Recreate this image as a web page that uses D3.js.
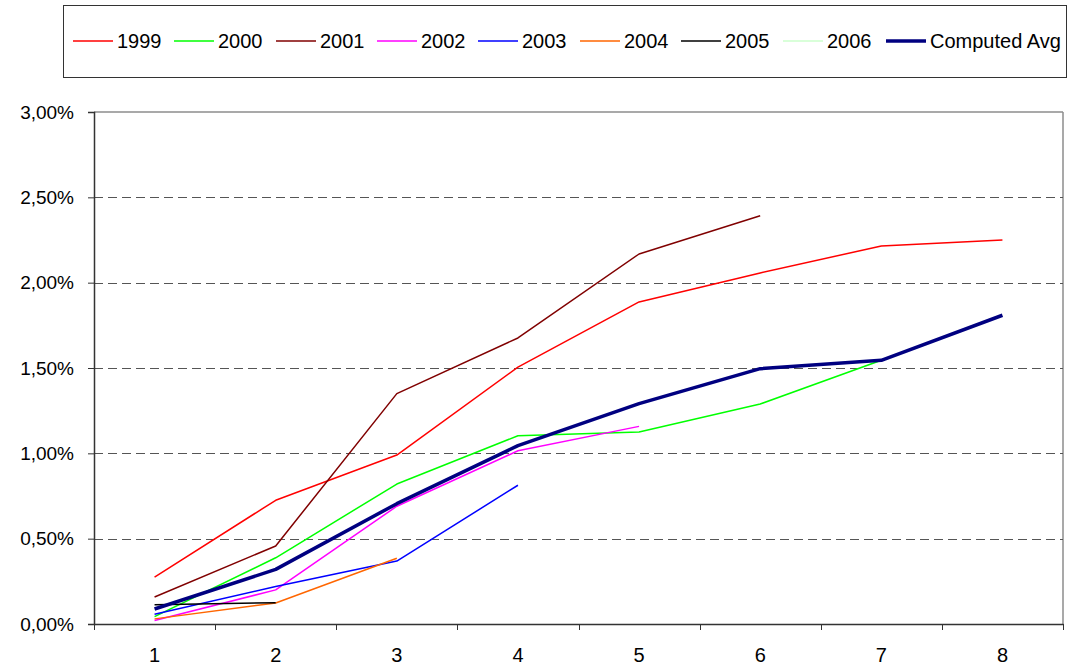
<!DOCTYPE html>
<html>
<head>
<meta charset="utf-8">
<script src="https://cdn.jsdelivr.net/npm/d3@7"></script>
<style>
  html, body { margin: 0; padding: 0; background: #fff; }
  svg { display: block; font-family: "Liberation Sans", Arial, sans-serif; }
</style>
</head>
<body>
<svg id="chart" width="1068" height="666"></svg>
<script>
const categories = [1, 2, 3, 4, 5, 6, 7, 8];
const yTicks = [0, 0.5, 1, 1.5, 2, 2.5, 3];
const yTickLabels = ["0,00%", "0,50%", "1,00%", "1,50%", "2,00%", "2,50%", "3,00%"];

const seriesNames = ["1999", "2000", "2001", "2002", "2003", "2004", "2005", "2006", "Computed Avg"];
const seriesColors = ["#ff0000", "#00ff00", "#800000", "#ff00ff", "#0000ff", "#ff6600", "#000000", "#ccffcc", "#000080"];
const seriesWidths = [1.5, 1.5, 1.5, 1.5, 1.5, 1.5, 1.5, 1.5, 3.5];

const v1999 = [0.275, 0.725, 0.99, 1.505, 1.887, 2.057, 2.215, 2.25];
const v2000 = [0.043, 0.388, 0.82, 1.103, 1.125, 1.289, 1.545];
const v2001 = [0.158, 0.457, 1.35, 1.676, 2.168, 2.392];
const v2002 = [0.02, 0.2, 0.69, 1.015, 1.158];
const v2003 = [0.057, 0.22, 0.369, 0.813];
const v2004 = [0.03, 0.123, 0.385];
const v2005 = [0.113, 0.125];
const v2006 = [0.09];
const vAvg = [0.088, 0.32, 0.705, 1.045, 1.291, 1.496, 1.545, 1.809];

const seriesValues = [v1999, v2000, v2001, v2002, v2003, v2004, v2005, v2006, vAvg];

const svg = d3.select("#chart");
const plot = { left: 94, right: 1063, top: 112, bottom: 624 };

const x = d3.scaleBand().domain(categories).range([plot.left, plot.right]);
const y = d3.scaleLinear().domain([0, 3]).range([plot.bottom, plot.top]);

// Plot frame (top/right gray)
svg.append("line").attr("x1", plot.left).attr("x2", plot.right).attr("y1", plot.top).attr("y2", plot.top)
  .attr("stroke", "#8c8c8c").attr("stroke-width", 1.5);
svg.append("line").attr("x1", plot.right).attr("x2", plot.right).attr("y1", plot.top).attr("y2", plot.bottom)
  .attr("stroke", "#8c8c8c").attr("stroke-width", 1.5);

// Gridlines
svg.append("g").selectAll("line").data(yTicks.filter(d => d > 0 && d < 3)).join("line")
  .attr("x1", plot.left).attr("x2", plot.right)
  .attr("y1", d => Math.round(y(d)) + 0.5).attr("y2", d => Math.round(y(d)) + 0.5)
  .attr("stroke", "#555").attr("stroke-width", 1).attr("stroke-dasharray", "9,5");

// Y axis
const yAxis = d3.axisLeft(y).tickValues(yTicks).tickFormat((d, i) => yTickLabels[i]).tickSizeOuter(0).tickSize(6).tickPadding(14);
const gy = svg.append("g").attr("transform", `translate(${plot.left},0)`).call(yAxis);
gy.select(".domain").attr("stroke", "#333").attr("stroke-width", 1.5);
gy.selectAll(".tick line").attr("stroke", "#333");
gy.selectAll(".tick text").attr("font-size", 19).attr("fill", "#000")
  .attr("font-family", "'Liberation Sans', Arial, sans-serif");

// X axis
const xAxis = d3.axisBottom(x).tickSize(0).tickPadding(24);
const gx = svg.append("g").attr("transform", `translate(0,${plot.bottom})`).call(xAxis);
gx.select(".domain").attr("stroke", "#333").attr("stroke-width", 1.5);
gx.selectAll(".tick text").attr("font-size", 20).attr("fill", "#000")
  .attr("font-family", "'Liberation Sans', Arial, sans-serif");
// tick marks at band boundaries
const bounds = categories.map(c => x(c)).concat([x(categories[categories.length - 1]) + x.bandwidth()]);
gx.append("g").selectAll("line").data(bounds).join("line")
  .attr("x1", d => Math.round(d) + 0.5).attr("x2", d => Math.round(d) + 0.5)
  .attr("y1", 0).attr("y2", 6).attr("stroke", "#333").attr("stroke-width", 1);

// Lines
const line = d3.line().x((d, i) => x(categories[i]) + x.bandwidth() / 2).y(d => y(d));
const gl = svg.append("g");
seriesValues.forEach((vals, k) => {
  if (vals.length < 2) return;
  gl.append("path").datum(vals).attr("d", line)
    .attr("fill", "none").attr("stroke", seriesColors[k]).attr("stroke-width", seriesWidths[k])
    .attr("stroke-linejoin", "round");
});

// Legend
const legend = svg.append("g");
legend.append("rect").attr("x", 63.5).attr("y", 5.5).attr("width", 1003).attr("height", 72)
  .attr("fill", "#fff").attr("stroke", "#333").attr("stroke-width", 1);
const legendTextX = [117, 218, 320, 421, 522, 624, 725, 827, 930];
seriesNames.forEach((name, k) => {
  const tx = legendTextX[k];
  legend.append("line").attr("x1", tx - 44).attr("x2", tx - 4).attr("y1", 41).attr("y2", 41)
    .attr("stroke", seriesColors[k]).attr("stroke-width", k === 8 ? 3.5 : 1.5);
  legend.append("text").attr("x", tx).attr("y", 47.5).text(name)
    .attr("font-size", 20).attr("fill", "#000");
});
</script>
</body>
</html>
